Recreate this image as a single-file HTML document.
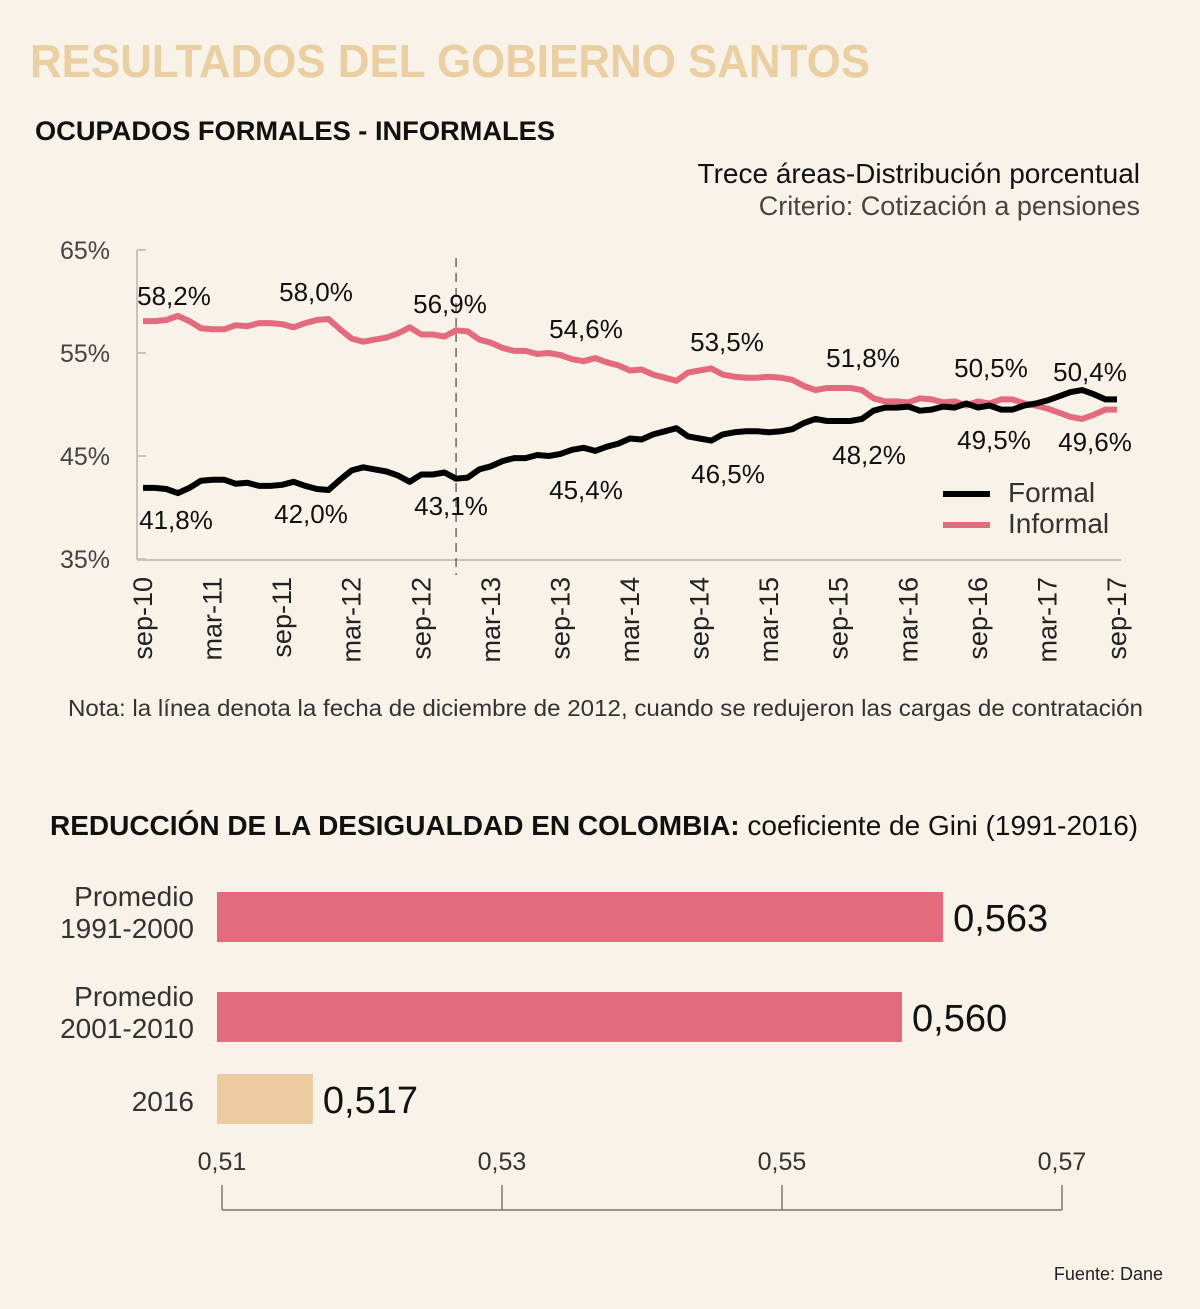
<!DOCTYPE html>
<html><head><meta charset="utf-8"><style>
html,body{margin:0;padding:0;background:#f8f2e8;}
svg{display:block;font-family:"Liberation Sans",sans-serif;}
</style></head><body>
<svg id="c" width="1200" height="1309" viewBox="0 0 1200 1309">
<rect width="1200" height="1309" fill="#f8f2e8"/>
<text x="30" y="77" font-size="46" font-weight="bold" fill="#e9cfa2" textLength="840" lengthAdjust="spacingAndGlyphs">RESULTADOS DEL GOBIERNO SANTOS</text>
<text x="35" y="140" font-size="27" font-weight="bold" fill="#111" textLength="520" lengthAdjust="spacingAndGlyphs">OCUPADOS FORMALES - INFORMALES</text>
<text x="1140" y="183" font-size="28" fill="#111" text-anchor="end">Trece áreas-Distribución porcentual</text>
<text x="1140" y="215" font-size="27" fill="#444" text-anchor="end">Criterio: Cotización a pensiones</text>
<g id="lc"></g>
<text x="68" y="716" font-size="23.5" fill="#333" textLength="1075" lengthAdjust="spacingAndGlyphs">Nota: la línea denota la fecha de diciembre de 2012, cuando se redujeron las cargas de contratación</text>
<text x="50" y="835" font-size="28" fill="#111"><tspan font-weight="bold">REDUCCIÓN DE LA DESIGUALDAD EN COLOMBIA:</tspan> coeficiente de Gini (1991-2016)</text>
<g id="bc"></g>
<text x="1163" y="1280" font-size="18" fill="#222" text-anchor="end">Fuente: Dane</text>
</svg>
<script>
const yTicks = [65, 55, 45, 35];
const xTickLabels = ["sep-10","mar-11","sep-11","mar-12","sep-12","mar-13","sep-13","mar-14","sep-14","mar-15","sep-15","mar-16","sep-16","mar-17","sep-17"];
const informal = [58.1,58.1,58.2,58.6,58.1,57.4,57.3,57.3,57.7,57.6,57.9,57.9,57.8,57.5,57.9,58.2,58.3,57.3,56.4,56.1,56.3,56.5,56.9,57.5,56.8,56.8,56.6,57.2,57.1,56.3,56.0,55.5,55.2,55.2,54.9,55.0,54.8,54.4,54.2,54.5,54.1,53.8,53.3,53.4,52.9,52.6,52.3,53.1,53.3,53.5,52.9,52.7,52.6,52.6,52.7,52.6,52.4,51.8,51.4,51.6,51.6,51.6,51.4,50.6,50.3,50.3,50.2,50.6,50.5,50.2,50.3,49.9,50.3,50.1,50.5,50.5,50.1,49.9,49.6,49.2,48.8,48.6,49.0,49.5,49.5];
const formal = [41.9,41.9,41.8,41.4,41.9,42.6,42.7,42.7,42.3,42.4,42.1,42.1,42.2,42.5,42.1,41.8,41.7,42.7,43.6,43.9,43.7,43.5,43.1,42.5,43.2,43.2,43.4,42.8,42.9,43.7,44.0,44.5,44.8,44.8,45.1,45.0,45.2,45.6,45.8,45.5,45.9,46.2,46.7,46.6,47.1,47.4,47.7,46.9,46.7,46.5,47.1,47.3,47.4,47.4,47.3,47.4,47.6,48.2,48.6,48.4,48.4,48.4,48.6,49.4,49.7,49.7,49.8,49.4,49.5,49.8,49.7,50.1,49.7,49.9,49.5,49.5,49.9,50.1,50.4,50.8,51.2,51.4,51.0,50.5,50.5];
const informalLabels = ["58,2%","58,0%","56,9%","54,6%","53,5%","51,8%","50,5%","50,4%"];
const formalLabels = ["41,8%","42,0%","43,1%","45,4%","46,5%","48,2%","49,5%","49,6%"];
const barCategories = [["Promedio","1991-2000"],["Promedio","2001-2010"],["2016"]];
const barValues = [0.563, 0.560, 0.517];
const barTicks = [0.51, 0.53, 0.55, 0.57];

const NS = "http://www.w3.org/2000/svg";
function mk(parent, tag, attrs, text){const e=document.createElementNS(NS,tag);for(const k in attrs)e.setAttribute(k,attrs[k]);if(text!==undefined)e.textContent=text;parent.appendChild(e);return e;}
const lc = document.getElementById('lc');
const X = i => 143 + i * (1117-143)/84;
const Y = v => 250 + (65 - v) * 10.3;
let e = mk(lc,'line',{x1:137,y1:Y(65),x2:137,y2:Y(35)+1,stroke:'#c8c4bd','stroke-width':2});
 
e = mk(lc,'line',{x1:137,y1:Y(35)+1,x2:1121,y2:Y(35)+1,stroke:'#c8c4bd','stroke-width':2});
 
yTicks.forEach(v=>{
  const t = mk(lc,'text',{x:110,y:Y(v)+9,'font-size':25,fill:'#444','text-anchor':'end'}, v+'%');
   
  const m = mk(lc,'line',{x1:137,y1:Y(v),x2:146,y2:Y(v),stroke:'#c8c4bd','stroke-width':2});
   
});
xTickLabels.forEach((s,k)=>{
  const x = X(k*6)+9;
  const t = mk(lc,'text',{x:0,y:0,'font-size':27,fill:'#222','text-anchor':'end',transform:`translate(${x},577) rotate(-90)`}, s);
   
});
e = mk(lc,'line',{x1:X(27),y1:258,x2:X(27),y2:575,stroke:'#555','stroke-width':1.3,'stroke-dasharray':'9,6'});
 
function path(arr){return arr.map((v,i)=>(i?'L':'M')+X(i).toFixed(1)+','+Y(v).toFixed(1)).join('');}
e = mk(lc,'path',{d:path(informal),fill:'none',stroke:'#e46a7d','stroke-width':6,'stroke-linejoin':'round'});
 
e = mk(lc,'path',{d:path(formal),fill:'none',stroke:'#000','stroke-width':6,'stroke-linejoin':'round'});
 
const infPos = [[174,305],[316,301],[450,313],[586,338],[727,351],[863,367],[991,377],[1090,381]];
const forPos = [[176,529],[311,523],[451,515],[586,499],[728,483],[869,464],[994,449],[1095,451]];
informalLabels.forEach((s,k)=>{const t=mk(lc,'text',{x:infPos[k][0],y:infPos[k][1],'font-size':26,fill:'#111','text-anchor':'middle'},s);
   });
formalLabels.forEach((s,k)=>{const t=mk(lc,'text',{x:forPos[k][0],y:forPos[k][1],'font-size':26,fill:'#111','text-anchor':'middle'},s);
   });
e = mk(lc,'line',{x1:943,y1:494,x2:990,y2:494,stroke:'#000','stroke-width':6});
 
e = mk(lc,'text',{x:1008,y:502,'font-size':28,fill:'#333'},'Formal');
 
e = mk(lc,'line',{x1:943,y1:525,x2:990,y2:525,stroke:'#e46a7d','stroke-width':6});
 
e = mk(lc,'text',{x:1008,y:533,'font-size':28,fill:'#333'},'Informal');
 

const bc = document.getElementById('bc');
const BX = v => 217 + (v - 0.51) * 13700;
const TX = v => 222 + (v - 0.51) * 14000;
const barY = [892, 992, 1074];
const barColors = ['#e46a7d','#e46a7d','#eccb9e'];
barValues.forEach((v,k)=>{
  const r = mk(bc,'rect',{x:217,y:barY[k],width:BX(v)-217,height:50,fill:barColors[k]});
   
  const t = mk(bc,'text',{x:BX(v)+10,y:barY[k]+39,'font-size':38,fill:'#111'}, v.toFixed(3).replace('.',','));
   
  const lines = barCategories[k];
  lines.forEach((s,j)=>{
    const yy = lines.length===2 ? barY[k]+14+j*32 : barY[k]+37;
    const c = mk(bc,'text',{x:194,y:yy,'font-size':28,fill:'#333','text-anchor':'end'}, s);
     
  });
});
e = mk(bc,'line',{x1:TX(0.51),y1:1210,x2:TX(0.57),y2:1210,stroke:'#777','stroke-width':1.5});
 
barTicks.forEach(v=>{
  const m = mk(bc,'line',{x1:TX(v),y1:1185,x2:TX(v),y2:1210,stroke:'#777','stroke-width':1.5});
   
  const t = mk(bc,'text',{x:TX(v),y:1170,'font-size':25,fill:'#333','text-anchor':'middle'}, v.toFixed(2).replace('.',','));
   
});
</script>
</body></html>
